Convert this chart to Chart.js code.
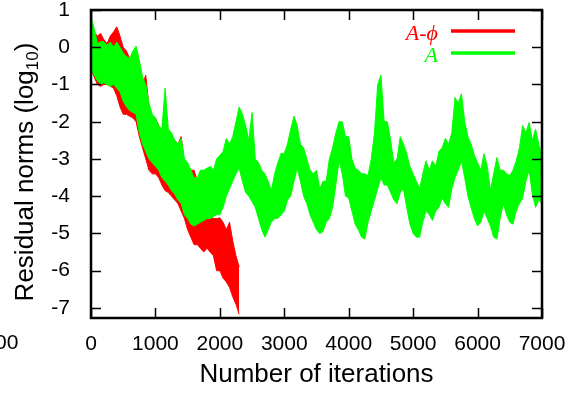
<!DOCTYPE html>
<html>
<head>
<meta charset="utf-8">
<script src="https://cdn.jsdelivr.net/npm/chart.js@4"></script>
<style>
  body { margin: 0; background: #fff; }
  #wrap { width: 575px; height: 394px; }
</style>
</head>
<body>
<div id="wrap"><canvas id="chart" width="575" height="394"></canvas></div>
<script>
const greenIter = [0,50,100,150,200,250,300,350,400,450,500,550,600,650,700,750,800,850,900,950,
  1000,1050,1100,1150,1200,1250,1300,1350,1400,1450,1500,1550,1600,1650,1700,1750,1800,1850,1900,1950,
  2000,2050,2100,2150,2200,2250,2300,2350,2400,2450,2500,2550,2600,2650,2700,2750,2800,2850,2900,2950,
  3000,3050,3100,3150,3200,3250,3300,3350,3400,3450,3500,3550,3600,3650,3700,3750,3800,3850,3900,3950,
  4000,4050,4100,4150,4200,4250,4300,4350,4400,4450,4500,4550,4600,4650,4700,4750,4800,4850,4900,4950,
  5000,5050,5100,5150,5200,5250,5300,5350,5400,5450,5500,5550,5600,5650,5700,5750,5800,5850,5900,5950,
  6000,6050,6100,6150,6200,6250,6300,6350,6400,6450,6500,6550,6600,6650,6700,6750,6800,6850,6900,6950,7000]
const greenHigh = [0.82,0.5,0.1,0.15,0.15,0.05,0.14,0,0.14,0,-0.15,-0.25,-0.3,-0.1,0.03,-0.35,-0.8,-1.0,-1.5,-1.8,
  -1.9,-2.1,-2.2,-1.1,-2.2,-2.3,-2.5,-2.6,-2.45,-3.0,-3.1,-3.3,-3.5,-3.5,-3.3,-3.3,-3.25,-3.2,-3.3,-3.0,
  -2.9,-2.8,-2.45,-2.6,-2.4,-2.0,-1.6,-1.8,-2.1,-2.5,-1.75,-3.0,-3.1,-3.3,-3.4,-3.6,-3.85,-3.4,-3.1,-2.85,
  -2.85,-2.6,-2.2,-1.85,-2.1,-2.6,-2.7,-3.0,-3.3,-3.4,-3.3,-3.8,-3.6,-3.6,-3.0,-2.7,-2.3,-2.0,-2.0,-2.4,
  -2.4,-3.0,-3.25,-3.3,-3.4,-3.4,-3.45,-3.0,-2.3,-1.0,-0.75,-2.0,-2.0,-2.5,-3.1,-3.0,-2.4,-2.6,-2.85,-3.2,
  -3.4,-3.6,-3.8,-3.4,-3.05,-3.3,-3.05,-3.2,-2.8,-2.7,-2.45,-2.6,-2.3,-1.35,-1.5,-1.25,-2.0,-2.4,-2.6,-2.9,
  -3.1,-3.3,-2.86,-3.2,-3.85,-3.4,-2.96,-3.3,-3.3,-3.4,-3.45,-3.3,-3.05,-2.7,-2.1,-2.3,-2.02,-2.5,-2.2,-2.6,-2.9]
const greenLow = [-0.6,-0.75,-0.9,-1.0,-0.95,-1.0,-1.05,-1.0,-1.1,-1.2,-1.45,-1.6,-1.7,-1.75,-1.8,-2.3,-2.6,-2.8,-3.0,-3.1,
  -3.2,-3.3,-3.5,-3.6,-3.7,-3.85,-3.95,-4.1,-4.2,-4.5,-4.6,-4.75,-4.8,-4.75,-4.7,-4.65,-4.6,-4.6,-4.55,-4.5,
  -4.5,-4.3,-4.0,-3.8,-3.6,-3.4,-3.25,-3.6,-3.9,-4.0,-4.15,-4.3,-4.6,-4.9,-5.1,-4.9,-4.7,-4.6,-4.6,-4.5,
  -4.4,-4.1,-4.0,-3.6,-3.25,-3.6,-4.0,-4.2,-4.5,-4.7,-4.9,-5.0,-4.95,-4.7,-4.6,-4.3,-3.7,-3.05,-3.4,-4.0,
  -4.05,-4.4,-4.75,-4.9,-5.1,-5.15,-4.7,-4.4,-4.1,-3.8,-3.5,-3.7,-3.7,-3.9,-4.1,-4.2,-3.9,-3.8,-4.3,-4.75,
  -5.0,-5.1,-5.1,-4.7,-4.4,-4.5,-4.65,-4.4,-4.3,-4.05,-4.2,-4.3,-3.8,-3.5,-3.3,-3.05,-3.5,-4.0,-4.3,-4.6,
  -4.8,-4.7,-4.4,-4.6,-4.8,-5.1,-5.15,-4.6,-4.2,-4.5,-4.7,-4.75,-4.4,-4.2,-4.05,-3.6,-3.3,-3.94,-4.3,-4.1,-4.2]

const redIter = [0,50,100,150,200,250,300,350,400,450,500,550,600,650,700,750,800,850,900,950,
  1000,1050,1100,1150,1200,1250,1300,1350,1400,1450,1500,1550,1600,1650,1700,1750,1800,1850,1900,1950,
  2000,2050,2100,2150,2200,2250,2300]
const redHigh = [0.8,0.4,0.3,0.37,0.2,0.1,0.3,0.41,0.55,0.3,0,-0.1,-0.3,-0.5,-0.5,-0.6,-1.0,-0.75,-1.6,-1.9,
  -1.9,-2.1,-2.3,-2.3,-2.4,-2.4,-2.5,-2.6,-2.4,-3.1,-3.2,-3.3,-3.3,-3.6,-4.0,-4.5,-4.6,-4.5,-4.6,-4.6,
  -4.58,-4.7,-4.9,-4.7,-5.2,-5.6,-5.9]
const redLow = [-0.6,-0.8,-1.0,-1.05,-1.0,-1.0,-1.05,-1.1,-1.3,-1.6,-1.8,-1.8,-1.85,-1.9,-2.0,-2.4,-2.7,-3.0,-3.3,-3.4,
  -3.4,-3.5,-3.7,-3.85,-3.9,-4.0,-4.1,-4.2,-4.4,-4.6,-4.9,-5.1,-5.3,-5.3,-5.4,-5.5,-5.4,-5.5,-5.6,-6.0,
  -6.0,-6.2,-6.3,-6.45,-6.7,-6.9,-7.17]

const xTicks = [0,1000,2000,3000,4000,5000,6000,7000]
const yTicks = [-7,-6,-5,-4,-3,-2,-1,0,1]

const RED = '#ff0000'
const GREEN = '#00ff00'

function pts(xs, ys) {
  return xs.map((x, i) => ({ x: x, y: ys[i] }))
}

function band(xs, ys, color, order, fill) {
  return {
    data: pts(xs, ys),
    borderColor: color,
    backgroundColor: color,
    borderWidth: 1,
    pointRadius: 0,
    tension: 0,
    fill: fill,
    order: order
  }
}

// gnuplot-like frame, inward ticks, legend and y title
const decor = {
  id: 'decor',
  afterDraw(chart) {
    const ctx = chart.ctx
    const a = chart.chartArea
    const xs = chart.scales.x
    const ys = chart.scales.y
    ctx.save()
    ctx.strokeStyle = '#000'
    ctx.lineWidth = 1.5
    ctx.beginPath()
    xTicks.forEach(v => {
      const px = Math.round(xs.getPixelForValue(v)) + 0.5
      ctx.moveTo(px, a.bottom); ctx.lineTo(px, a.bottom - 10)
      ctx.moveTo(px, a.top); ctx.lineTo(px, a.top + 10)
    })
    yTicks.forEach(v => {
      const py = Math.round(ys.getPixelForValue(v)) + 0.5
      ctx.moveTo(a.left, py); ctx.lineTo(a.left + 10, py)
      ctx.moveTo(a.right, py); ctx.lineTo(a.right - 10, py)
    })
    ctx.stroke()
    ctx.lineWidth = 2.5
    ctx.strokeRect(a.left, a.top, a.right - a.left, a.bottom - a.top)

    // legend
    ctx.font = 'italic 22px "Liberation Serif", serif'
    ctx.textAlign = 'right'
    ctx.textBaseline = 'alphabetic'
    ctx.fillStyle = RED
    ctx.fillText('A-\u03d5', 438, 40)
    ctx.fillStyle = GREEN
    ctx.fillText('A', 438, 62)
    ctx.lineWidth = 3.5
    ctx.strokeStyle = RED
    ctx.beginPath(); ctx.moveTo(451, 31); ctx.lineTo(515, 31); ctx.stroke()
    ctx.strokeStyle = GREEN
    ctx.beginPath(); ctx.moveTo(451, 53); ctx.lineTo(515, 53); ctx.stroke()

    // y axis title with subscript
    ctx.fillStyle = '#000'
    ctx.translate(24, (a.top + a.bottom) / 2 + 8)
    ctx.rotate(-Math.PI / 2)
    ctx.textAlign = 'left'
    const big = '26px "Liberation Sans", Arial, sans-serif'
    const small = '17px "Liberation Sans", Arial, sans-serif'
    ctx.font = big
    const w1 = ctx.measureText('Residual norms (log').width
    const w3 = ctx.measureText(')').width
    ctx.font = small
    const w2 = ctx.measureText('10').width
    let x0 = -(w1 + w2 + w3) / 2
    ctx.font = big
    ctx.fillText('Residual norms (log', x0, 9)
    ctx.font = small
    ctx.fillText('10', x0 + w1, 14)
    ctx.font = big
    ctx.fillText(')', x0 + w1 + w2, 9)
    ctx.restore()

    // clipped label from the neighbouring panel
    ctx.save()
    ctx.font = '21px "Liberation Sans", Arial, sans-serif'
    ctx.fillStyle = '#000'
    ctx.textAlign = 'left'
    ctx.textBaseline = 'alphabetic'
    ctx.fillText('00', -5, 349)
    ctx.restore()
  }
}

const tickFont = { family: '"Liberation Sans", Arial, sans-serif', size: 21 }
const plain = v => String(v)

new Chart(document.getElementById('chart'), {
  type: 'line',
  data: {
    datasets: [
      band(greenIter, greenHigh, GREEN, 0, '+1'),
      band(greenIter, greenLow, GREEN, 0, false),
      band(redIter, redHigh, RED, 1, '+1'),
      band(redIter, redLow, RED, 1, false)
    ]
  },
  options: {
    responsive: false,
    animation: false,
    layout: { padding: { top: 10, right: 33, left: 0, bottom: 0 } },
    plugins: {
      legend: { display: false },
      tooltip: { enabled: false }
    },
    scales: {
      x: {
        type: 'linear',
        min: 0,
        max: 7000,
        grid: { display: false },
        border: { display: false },
        afterFit: s => { s.height = 76; s.paddingLeft = 0; s.paddingRight = 0 },
        ticks: {
          stepSize: 1000,
          maxRotation: 0,
          padding: 6,
          color: '#000',
          font: tickFont,
          includeBounds: false,
          callback: plain
        },
        title: {
          display: true,
          text: 'Number of iterations',
          color: '#000',
          font: { family: '"Liberation Sans", Arial, sans-serif', size: 26 },
          padding: { top: 0, bottom: 4 }
        }
      },
      y: {
        type: 'linear',
        min: -7.27,
        max: 1,
        grid: { display: false },
        border: { display: false },
        afterFit: s => { s.width = 91; s.paddingTop = 0; s.paddingBottom = 0 },
        ticks: {
          stepSize: 1,
          padding: 13,
          color: '#000',
          font: tickFont,
          includeBounds: false,
          callback: plain
        }
      }
    }
  },
  plugins: [decor]
})
</script>
</body>
</html>
